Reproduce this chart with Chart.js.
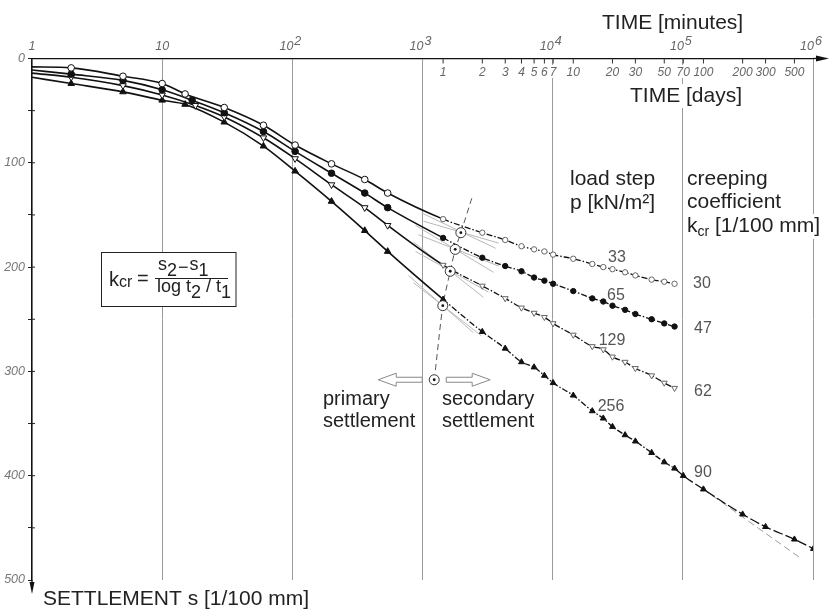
<!DOCTYPE html>
<html lang="en">
<head>
<meta charset="UTF-8">
<title>Settlement - time</title>
<script src="https://cdn.jsdelivr.net/npm/chart.js"></script>
<style>
  body { margin: 0; background: #fff; }
</style>
</head>
<body>
<canvas id="grafico" width="829" height="611"></canvas>
<script>
    // axis ticks
    const decades = [1, 10, 100, 1000, 10000, 100000, 1000000];
    const decadeExponents = ['', '', '2', '3', '4', '5', '6'];
    const dayTicks = [1, 2, 3, 4, 5, 6, 7, 10, 20, 30, 50, 70, 100, 200, 300, 500];

    // measuring times: minutes for the first day, then days
    const minutes33 = [1, 2, 5, 10, 15, 30, 60, 105, 200, 360, 540];
    const minutes65 = [1, 2, 5, 10, 17, 30, 60, 105, 200, 360, 540];
    const minutes129 = [1, 2, 5, 10, 18, 30, 60, 105, 200, 360, 540];
    const minutes256 = [1, 2, 5, 10, 15, 30, 60, 105, 200, 360, 540];
    const days = [1, 2, 3, 4, 5, 6, 7, 10, 14, 17, 20, 25, 30, 40, 50, 60];
    const days256 = [1, 2, 3, 4, 5, 6, 7, 10, 14, 17, 20, 25, 30, 40, 50, 60, 70, 100, 200, 300, 500, 700];

    // settlement s [1/100 mm]
    const settlement33 = [8, 9, 17, 24, 34, 47, 64, 83, 101, 116, 129,
        154, 167, 174, 180, 183, 185, 188, 192, 197, 200, 202, 205, 208, 212, 214, 216];
    const settlement65 = [11, 15, 21, 30, 40, 52, 70, 89, 110, 129, 143,
        172, 191, 199, 204, 210, 213, 216, 223, 230, 233, 237, 241, 245, 250, 254, 257];
    const settlement129 = [14, 18, 26, 35, 45, 56, 76, 96, 121, 143, 160,
        198, 218, 230, 239, 244, 248, 254, 265, 276, 279, 286, 291, 297, 304, 311, 316];
    const settlement256 = [18, 24, 32, 40, 44, 61, 84, 108, 137, 165, 185,
        231, 262, 278, 291, 296, 304, 311, 323, 338, 345, 353, 361, 367, 378, 387, 393, 400, 413, 437, 449, 461, 470];

    const loadSteps = ['33', '65', '129', '256'];
    const creepCoefficients = ['30', '47', '62', '90'];

    // end of primary settlement (intersection of tangents) and the dashed boundary
    const turnTimes = [1971, 1784, 1633, 1432];
    const turnValues = [167, 183, 204, 237];
    const boundaryTimes = [2393, 1971, 1784, 1633, 1432, 1253];
    const boundaryValues = [134, 167, 183, 204, 237, 300];
    const markerTimes = [1230];
    const markerValues = [308];

    // tangents [t1, s1, t2, s2]
    const tangents = [
        [983, 148, 3647, 182], [1018, 156, 3847, 177],
        [884, 160, 3518, 205], [931, 169, 3847, 199],
        [853, 176, 2944, 229], [884, 185, 3219, 224],
        [780, 208, 2466, 263], [853, 215, 2844, 266]
    ];
    const trend256Times = [144000, 824000];
    const trend256Values = [413, 480];

    const FONT = '"Liberation Sans", Arial, sans-serif';
    Chart.defaults.font.family = FONT;

    function tempos(mins, d) {
        return mins.concat(d.map(v => v * 1440));
    }
    function pontos(times, values) {
        return times.map((t, i) => ({ x: t, y: values[i] }));
    }

    function serie(label, data, filled, rotation) {
        return {
            label: label,
            data: data,
            order: 5,
            borderColor: '#111',
            borderWidth: 1.5,
            cubicInterpolationMode: 'monotone',
            pointStyle: rotation === null ? 'circle' : 'triangle',
            rotation: rotation || 0,
            pointRadius: ctx => ctx.dataIndex === 0 ? 0 : (ctx.raw.x >= 1440 ? (rotation === null ? 2.7 : 3.4) : (rotation === null ? 3.3 : 3.8)),
            pointBorderWidth: 1,
            pointBackgroundColor: filled ? '#111' : '#fff',
            pointBorderColor: ctx => (!filled && ctx.raw && ctx.raw.x >= 1440) ? '#666' : '#111',
            segment: {
                borderDash: ctx => {
                    const t = data[ctx.p0DataIndex].x;
                    if (t >= 86400) return [10, 3];
                    if (t >= 1440) return [6, 2, 1.5, 2];
                    return undefined;
                },
                borderWidth: ctx => data[ctx.p0DataIndex].x >= 1440 ? 1.3 : 1.6
            }
        };
    }

    const datasets = [];
    tangents.forEach(function (tg) {
        datasets.push({
            data: [{ x: tg[0], y: tg[1] }, { x: tg[2], y: tg[3] }],
            borderColor: '#b8b8b8', borderWidth: 1, pointRadius: 0, order: 10
        });
    });
    datasets.push({
        data: pontos(trend256Times, trend256Values),
        borderColor: '#999', borderWidth: 1, borderDash: [7, 4], pointRadius: 0, order: 9
    });
    datasets.push({
        data: pontos(boundaryTimes, boundaryValues),
        borderColor: '#555', borderWidth: 1, borderDash: [6, 4], pointRadius: 0, tension: 0.2, order: 8
    });
    datasets.push(serie(loadSteps[0], pontos(tempos(minutes33, days), settlement33), false, null));
    datasets.push(serie(loadSteps[1], pontos(tempos(minutes65, days), settlement65), true, null));
    datasets.push(serie(loadSteps[2], pontos(tempos(minutes129, days), settlement129), false, 180));
    datasets.push(serie(loadSteps[3], pontos(tempos(minutes256, days256), settlement256), true, 0));
    const circled = pontos(turnTimes.concat(markerTimes), turnValues.concat(markerValues));
    datasets.push({
        data: circled, showLine: false, pointRadius: 5, pointBorderWidth: 1,
        pointBackgroundColor: '#fff', pointBorderColor: '#333', order: 2
    });
    datasets.push({
        data: circled, showLine: false, pointRadius: 1.4, pointBorderWidth: 0,
        pointBackgroundColor: '#111', order: 1
    });

    function texto(ctx, s, x, y, size, color, align, style) {
        ctx.font = (style || '') + ' ' + size + 'px ' + FONT;
        ctx.fillStyle = color;
        ctx.textAlign = align || 'left';
        ctx.textBaseline = 'alphabetic';
        ctx.fillText(s, x, y);
        return ctx.measureText(s).width;
    }

    function seta(ctx, x0, x1, y) {
        // hollow block arrow, tip at x1
        const dir = x1 > x0 ? 1 : -1;
        const head = 18 * dir;
        ctx.beginPath();
        ctx.moveTo(x0, y - 2.5);
        ctx.lineTo(x1 - head, y - 2.5);
        ctx.lineTo(x1 - head, y - 6.5);
        ctx.lineTo(x1, y);
        ctx.lineTo(x1 - head, y + 6.5);
        ctx.lineTo(x1 - head, y + 2.5);
        ctx.lineTo(x0, y + 2.5);
        ctx.closePath();
        ctx.fillStyle = '#fff';
        ctx.fill();
        ctx.strokeStyle = '#888';
        ctx.lineWidth = 1;
        ctx.stroke();
    }

    const anotacoes = {
        id: 'anotacoes',
        afterDraw(chart) {
            const ctx = chart.ctx;
            const xs = chart.scales.x;
            const ys = chart.scales.y;
            const area = chart.chartArea;
            ctx.save();

            // minute decades on top
            decades.forEach(function (v, i) {
                const px = xs.getPixelForValue(v);
                if (decadeExponents[i] === '') {
                    texto(ctx, String(v), px, 50, 12.5, '#666', 'center', 'italic');
                } else {
                    texto(ctx, '10', px + 1, 50, 12.5, '#666', 'right', 'italic');
                    texto(ctx, decadeExponents[i], px + 2, 45, 12.5, '#666', 'left', 'italic');
                }
            });

            // small ticks crossing the settlement axis
            ctx.strokeStyle = '#222';
            ctx.lineWidth = 1;
            for (let v = 50; v < 500; v += 50) {
                const py = ys.getPixelForValue(v);
                ctx.beginPath();
                ctx.moveTo(area.left, py);
                ctx.lineTo(area.left + 3, py);
                ctx.stroke();
            }

            // day scale under the axis line
            ctx.font = 'italic 12px ' + FONT;
            dayTicks.forEach(function (d) {
                const px = xs.getPixelForValue(d * 1440);
                const w = ctx.measureText(String(d)).width;
                ctx.fillStyle = '#fff';
                ctx.fillRect(px - w / 2 - 1, 65, w + 2, 13);
                ctx.strokeStyle = '#333';
                ctx.lineWidth = 1;
                ctx.beginPath();
                ctx.moveTo(px, area.top);
                ctx.lineTo(px, area.top + 5);
                ctx.stroke();
                texto(ctx, String(d), px, 76, 12, '#666', 'center', 'italic');
            });

            // axis arrows
            ctx.fillStyle = '#111';
            ctx.strokeStyle = '#111';
            ctx.lineWidth = 1.3;
            ctx.beginPath();
            ctx.moveTo(area.right, area.top);
            ctx.lineTo(820, area.top);
            ctx.stroke();
            ctx.beginPath();
            ctx.moveTo(829, area.top);
            ctx.lineTo(816, area.top - 3);
            ctx.lineTo(816, area.top + 3);
            ctx.closePath();
            ctx.fill();
            ctx.beginPath();
            ctx.moveTo(area.left, area.bottom);
            ctx.lineTo(area.left, 586);
            ctx.stroke();
            ctx.beginPath();
            ctx.moveTo(area.left, 594);
            ctx.lineTo(area.left - 2.5, 582);
            ctx.lineTo(area.left + 2.5, 582);
            ctx.closePath();
            ctx.fill();

            // titles
            texto(ctx, 'TIME [minutes]', 602, 29, 21, '#222');
            ctx.font = '21px ' + FONT;
            const wd = ctx.measureText('TIME [days]').width;
            ctx.fillStyle = '#fff';
            ctx.fillRect(628, 84, wd + 4, 24);
            texto(ctx, 'TIME [days]', 630, 102, 21, '#222');
            texto(ctx, 'SETTLEMENT s [1/100 mm]', 43, 605, 21, '#222');

            texto(ctx, 'load step', 570, 185, 21, '#222');
            texto(ctx, 'p [kN/m²]', 570, 209, 21, '#222');
            texto(ctx, 'creeping', 687, 185, 21, '#222');
            texto(ctx, 'coefficient', 687, 208, 21, '#222');
            ctx.font = '21px ' + FONT;
            ctx.fillStyle = '#fff';
            ctx.fillRect(686, 214, 136, 25);
            let x = 687;
            x += texto(ctx, 'k', x, 232, 21, '#222');
            x += texto(ctx, 'cr', x, 236, 14, '#222');
            texto(ctx, ' [1/100 mm]', x, 232, 21, '#222');

            // load steps and creeping coefficients
            const stepPos = [[617, 262], [616, 300], [612, 345], [611, 411]];
            const coefPos = [[702, 288], [703, 333], [703, 396], [703, 477]];
            loadSteps.forEach(function (s, i) {
                texto(ctx, s, stepPos[i][0], stepPos[i][1], 16, '#555', 'center');
                texto(ctx, creepCoefficients[i], coefPos[i][0], coefPos[i][1], 16, '#555', 'center');
            });

            // formula box
            ctx.fillStyle = '#fff';
            ctx.fillRect(101.5, 252.5, 134.5, 54);
            ctx.strokeStyle = '#222';
            ctx.lineWidth = 1;
            ctx.strokeRect(101.5, 252.5, 134.5, 54);
            x = 109;
            x += texto(ctx, 'k', x, 286, 20, '#222');
            x += texto(ctx, 'cr', x, 287, 16, '#222');
            texto(ctx, '=', 137, 285, 20, '#222');
            ctx.beginPath();
            ctx.moveTo(155, 278.5);
            ctx.lineTo(228, 278.5);
            ctx.stroke();
            x = 158;
            x += texto(ctx, 's', x, 270, 18, '#222');
            x += texto(ctx, '2', x, 276, 18, '#222');
            x += texto(ctx, '−', x + 1, 273, 18, '#222') + 2;
            x += texto(ctx, 's', x, 270, 18, '#222');
            texto(ctx, '1', x, 276, 18, '#222');
            x = 157;
            x += texto(ctx, 'log t', x, 292, 18, '#222');
            x += texto(ctx, '2', x, 298, 18, '#222');
            x += texto(ctx, ' / t', x, 292, 18, '#222');
            texto(ctx, '1', x, 298, 18, '#222');

            // primary / secondary arrows around the marker
            const cx = xs.getPixelForValue(markerTimes[0]);
            const cy = ys.getPixelForValue(markerValues[0]);
            seta(ctx, cx - 12, cx - 56, cy);
            seta(ctx, cx + 12, cx + 56, cy);
            texto(ctx, 'primary', 323, 405, 20, '#222');
            texto(ctx, 'settlement', 323, 427, 20, '#222');
            texto(ctx, 'secondary', 442, 405, 20, '#222');
            texto(ctx, 'settlement', 442, 427, 20, '#222');

            ctx.restore();
        }
    };

    new Chart(document.getElementById('grafico'), {
        type: 'line',
        data: { datasets: datasets },
        options: {
            responsive: false,
            animation: false,
            layout: { padding: { left: 0, top: 0, right: 16, bottom: 31 } },
            plugins: { legend: { display: false }, tooltip: { enabled: false } },
            scales: {
                x: {
                    type: 'logarithmic',
                    position: 'top',
                    min: 1,
                    max: 1000000,
                    afterFit: function (s) { s.height = 58.5; },
                    afterBuildTicks: function (s) { s.ticks = decades.map(v => ({ value: v })); },
                    ticks: { display: false },
                    grid: { color: '#9a9a9a', lineWidth: 1, drawTicks: false },
                    border: { color: '#111', width: 1.3 }
                },
                y: {
                    type: 'linear',
                    reverse: true,
                    min: 0,
                    max: 500,
                    afterFit: function (s) { s.width = 32; },
                    ticks: {
                        stepSize: 50,
                        autoSkip: false,
                        padding: 3,
                        color: '#777',
                        font: { size: 12.5, style: 'italic' },
                        callback: v => v % 100 === 0 ? v : ''
                    },
                    grid: { drawOnChartArea: false, tickLength: 4, color: '#222' },
                    border: { color: '#111', width: 1.3 }
                }
            }
        },
        plugins: [anotacoes]
    });
</script>
</body>
</html>
